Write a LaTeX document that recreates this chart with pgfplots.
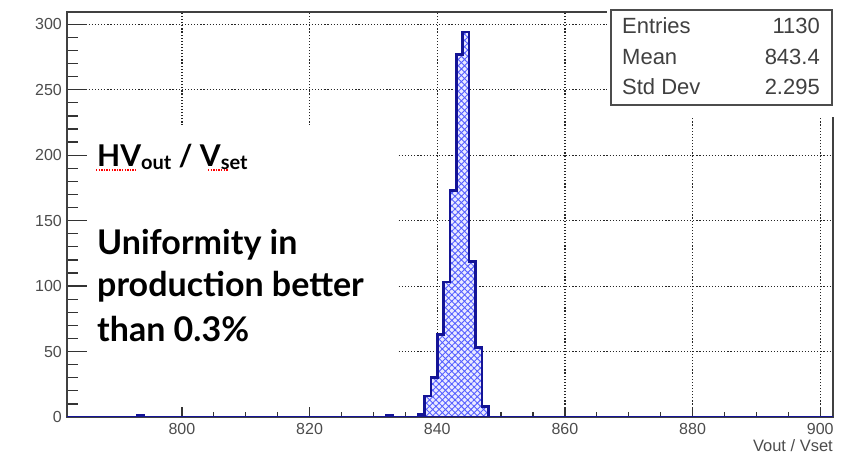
\documentclass[border=0pt]{standalone}
\usepackage{fontspec}
\setmainfont{Liberation Sans}
\newfontfamily\lato{Lato}
\usepackage{pgfplots}
\pgfplotsset{compat=1.18}
\usetikzlibrary{patterns.meta}
\definecolor{histblue}{RGB}{20,20,150}
\definecolor{hatchblue}{RGB}{85,95,255}
\begin{document}
\begin{tikzpicture}
\useasboundingbox (0bp,0bp) rectangle (849bp,454bp);
\begin{axis}[
  at={(67bp,37bp)}, anchor=south west,
  scale only axis, width=766bp, height=405bp,
  xmin=782, xmax=902, ymin=0, ymax=309.4,
  xtick={800,820,...,900}, ytick={0,50,...,300},
  minor x tick num=3, minor y tick num=4,
  tick align=inside, tick pos=left,
  major x tick style={/pgfplots/major tick length=10bp},
  minor x tick style={/pgfplots/minor tick length=5bp},
  major y tick style={/pgfplots/major tick length=20bp},
  minor y tick style={/pgfplots/minor tick length=11bp},
  every tick/.style={black!80, line width=1.3bp},
  grid=major,
  major grid style={black!85, line width=1.2bp, dash pattern=on 1.2bp off 1.9bp},
  axis line style={black!75, line width=1.4bp},
  ticklabel style={font=\fontsize{16bp}{19bp}\selectfont, text=black!70},
  /pgf/number format/assume math mode=true,
  yticklabel style={inner sep=0pt, xshift=-5bp},
  xticklabel style={inner sep=0pt, yshift=-6bp},
  xlabel={Vout / Vset},
  xlabel style={at={(rel axis cs:1,0)}, anchor=north east, inner sep=0pt, yshift=-22bp, font=\fontsize{16.5bp}{19bp}\selectfont, text=black!70},
]
\addplot[forget plot, const plot mark left, draw=none, fill=blue!8]
  coordinates {(782,0) (793,1) (794,0) (832,1) (833,0) (837,2) (838,16) (839,30) (840,63) (841,103) (842,173) (843,277) (844,294) (845,119) (846,53) (847,8) (848,0) (902,0)} \closedcycle;
\addplot[const plot mark left, draw=histblue, line width=2.6bp,
  pattern={Hatch[angle=45,distance=4.5bp,line width=0.9bp]}, pattern color=hatchblue]
  coordinates {(782,0) (793,1) (794,0) (832,1) (833,0) (837,2) (838,16) (839,30) (840,63) (841,103) (842,173) (843,277) (844,294) (845,119) (846,53) (847,8) (848,0) (902,0)} \closedcycle;
\end{axis}
% white masks of the composed slide
\fill[white] (88bp,47bp) rectangle (398bp,329bp);
\fill[white] (607bp,337bp) rectangle (849bp,454bp);
% stats box
\draw[black!70, line width=1.5bp, fill=white] (611bp,349bp) rectangle (832bp,444bp);
\begin{scope}[every node/.style={inner sep=0pt, text=black!75, font=\fontsize{22bp}{26bp}\selectfont}]
\node[anchor=base west] at (622bp,420bp) {Entries};
\node[anchor=base west] at (622bp,389bp) {Mean};
\node[anchor=base west] at (622bp,359bp) {Std Dev};
\node[anchor=base east] at (820bp,420bp) {1130};
\node[anchor=base east] at (820bp,389bp) {843.4};
\node[anchor=base east] at (820bp,359bp) {2.295};
\end{scope}
% overlay text
\begin{scope}[every node/.style={inner sep=0pt, anchor=base west, text=black}]
\node at (97bp,287bp) {\lato\bfseries\fontsize{30bp}{36bp}\selectfont HV\raisebox{-3bp}{\fontsize{20bp}{24bp}\selectfont out} / V\raisebox{-3bp}{\fontsize{20bp}{24bp}\selectfont set}};
\node at (97bp,199bp) {\lato\bfseries\fontsize{34bp}{40bp}\selectfont Uniformity in};
\node at (97bp,157bp) {\lato\bfseries\fontsize{34bp}{40bp}\selectfont production better};
\node at (97bp,112bp) {\lato\bfseries\fontsize{34bp}{40bp}\selectfont than 0.3\%};
\end{scope}
\draw[red, line width=1.3bp, dash pattern=on 1.3bp off 1.3bp] (96bp,284bp) -- (137bp,284bp);
\draw[red, line width=1.3bp, dash pattern=on 1.3bp off 1.3bp] (208bp,284bp) -- (228bp,284bp);
\end{tikzpicture}
\end{document}
